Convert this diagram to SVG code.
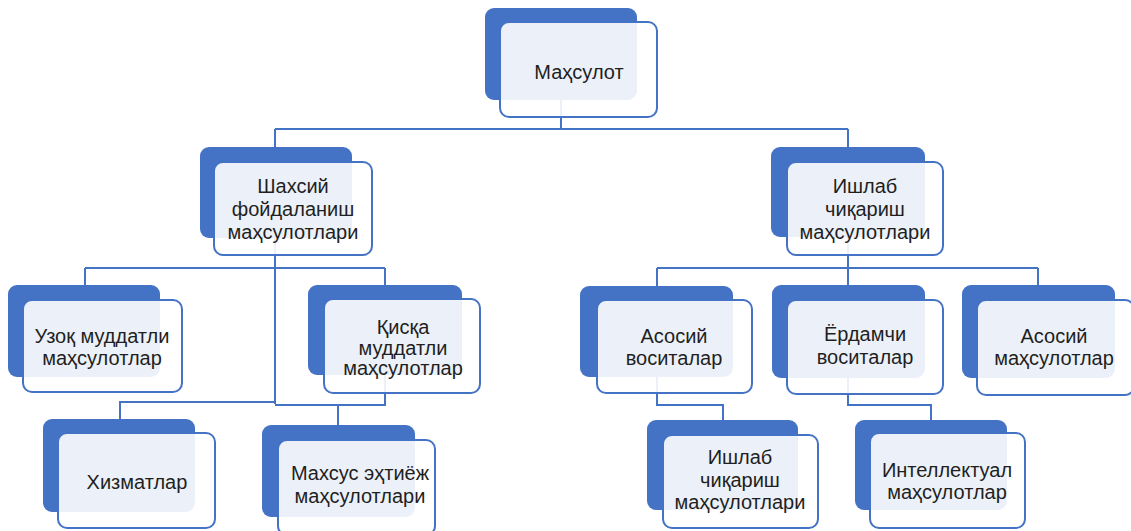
<svg xmlns="http://www.w3.org/2000/svg" width="1131" height="531" viewBox="0 0 1131 531">
<style>
.bk{fill:#4472C4;}
.fr{fill:#FFFFFF;fill-opacity:0.9;stroke:#4472C4;stroke-width:2;}
.t{font-family:"Liberation Sans",Arial,sans-serif;font-size:20px;fill:#1f1f1f;text-anchor:middle;}
.c{fill:none;stroke:#4472C4;stroke-width:2;}
</style>
<rect width="1131" height="531" fill="#FFFFFF"/>
<g id="connectors" class="c">
<path d="M561,100 V129 M275,129 H848 M275,129 V147 M848,129 V147"/>
<path d="M275,238 V404 M85,268 H385 M85,268 V285 M385,268 V285"/>
<path d="M275,402 H120 V419 M385,375 V405 H275 M338,405 V425"/>
<path d="M848,237 V285 M657,268 H1038 M657,268 V286 M1038,268 V285"/>
<path d="M657,377 V405 H723 V420 M848,378 V405 H931 V420"/>
</g>
<g id="n-mahsulot">
<rect class="bk" x="485" y="8" width="152" height="92" rx="9"/>
<rect class="fr" x="500" y="22" width="157" height="95" rx="9"/>
<text class="t" x="579" y="79">Маҳсулот</text>
</g>
<g id="n-shaxsiy">
<rect class="bk" x="200" y="147" width="152" height="91" rx="9"/>
<rect class="fr" x="214" y="162" width="158" height="93" rx="9"/>
<text class="t" x="293" y="193">Шахсий</text>
<text class="t" x="293" y="216">фойдаланиш</text>
<text class="t" x="293" y="239">маҳсулотлари</text>
</g>
<g id="n-ishlab">
<rect class="bk" x="771" y="147" width="154" height="90" rx="9"/>
<rect class="fr" x="787" y="162" width="156" height="93" rx="9"/>
<text class="t" x="865" y="193">Ишлаб</text>
<text class="t" x="865" y="216">чиқариш</text>
<text class="t" x="865" y="239">маҳсулотлари</text>
</g>
<g id="n-uzoq">
<rect class="bk" x="8" y="285" width="152" height="92" rx="9"/>
<rect class="fr" x="23" y="300" width="159" height="92" rx="9"/>
<text class="t" x="102" y="343">Узоқ муддатли</text>
<text class="t" x="102" y="365">маҳсулотлар</text>
</g>
<g id="n-qisqa">
<rect class="bk" x="308" y="285" width="154" height="90" rx="9"/>
<rect class="fr" x="324" y="299" width="156" height="94" rx="9"/>
<text class="t" x="403" y="334">Қисқа</text>
<text class="t" x="403" y="355">муддатли</text>
<text class="t" x="403" y="375">маҳсулотлар</text>
</g>
<g id="n-asosiy-v">
<rect class="bk" x="580" y="286" width="153" height="91" rx="9"/>
<rect class="fr" x="597" y="300" width="155" height="93" rx="9"/>
<text class="t" x="674" y="343">Асосий</text>
<text class="t" x="674" y="365">воситалар</text>
</g>
<g id="n-yordamchi">
<rect class="bk" x="772" y="285" width="153" height="93" rx="9"/>
<rect class="fr" x="787" y="300" width="156" height="94" rx="9"/>
<text class="t" x="865" y="341">Ёрдамчи</text>
<text class="t" x="865" y="364">воситалар</text>
</g>
<g id="n-asosiy-m">
<rect class="bk" x="962" y="285" width="153" height="93" rx="9"/>
<rect class="fr" x="977" y="300" width="157" height="95" rx="9"/>
<text class="t" x="1054" y="343">Асосий</text>
<text class="t" x="1054" y="365">маҳсулотлар</text>
</g>
<g id="n-xizmatlar">
<rect class="bk" x="43" y="419" width="152" height="93" rx="9"/>
<rect class="fr" x="58" y="433" width="157" height="95" rx="9"/>
<text class="t" x="137" y="489">Хизматлар</text>
</g>
<g id="n-maxsus">
<rect class="bk" x="262" y="425" width="153" height="92" rx="9"/>
<rect class="fr" x="278" y="440" width="157" height="95" rx="9"/>
<text class="t" x="360" y="480">Махсус эҳтиёж</text>
<text class="t" x="360" y="503">маҳсулотлари</text>
</g>
<g id="n-ishlab2">
<rect class="bk" x="647" y="420" width="151" height="90" rx="9"/>
<rect class="fr" x="663" y="435" width="155" height="93" rx="9"/>
<text class="t" x="740" y="464">Ишлаб</text>
<text class="t" x="740" y="487">чиқариш</text>
<text class="t" x="740" y="509">маҳсулотлари</text>
</g>
<g id="n-intellektual">
<rect class="bk" x="855" y="420" width="152" height="90" rx="9"/>
<rect class="fr" x="870" y="433" width="155" height="95" rx="9"/>
<text class="t" x="947" y="477">Интеллектуал</text>
<text class="t" x="947" y="499">маҳсулотлар</text>
</g>
</svg>
